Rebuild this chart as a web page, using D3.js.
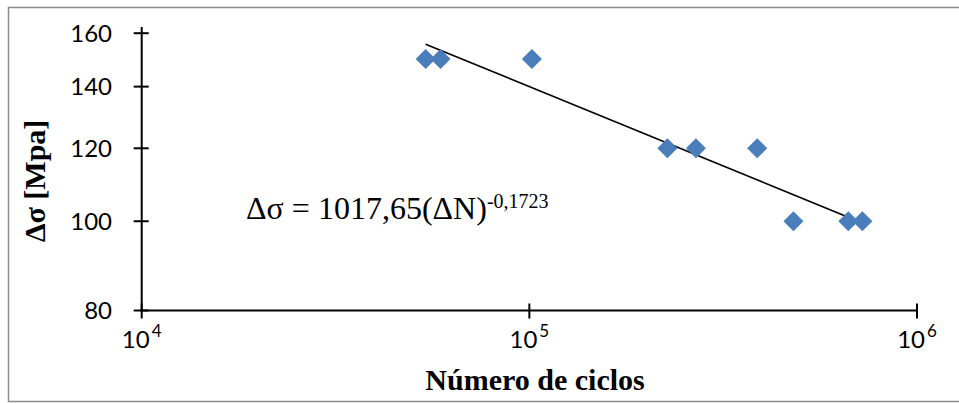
<!DOCTYPE html>
<html><head><meta charset="utf-8">
<script src="https://cdn.jsdelivr.net/npm/d3@7"></script>
<style>html,body{margin:0;padding:0;background:#fff;}svg{display:block;}</style>
</head><body>
<svg id="chart" width="959" height="403"></svg>
<script>
const cycles = [54000, 59000, 101500, 227000, 269000, 387000, 480000, 665000, 723000];
const stress = [150, 150, 150, 120, 120, 120, 100, 100, 100];
const yTicks = [80, 100, 120, 140, 160];
const xTicks = [1e4, 1e5, 1e6];
const xTickExp = ["4", "5", "6"];
const fitA = 1017.65, fitB = -0.1723;

const svg = d3.select("#chart");
const x = d3.scaleLog().domain([1e4, 1e6]).range([141.7, 917]);
const y = d3.scaleLog().domain([80, 162.5]).range([310.5, 27]);

// border (left, top, bottom)
svg.append("path").attr("d", "M960,7.5 H8.5 V401.5 H960")
  .attr("fill", "none").attr("stroke", "#8c8c8c").attr("stroke-width", 1.5);

const ax = svg.append("g").attr("stroke", "#000").attr("stroke-width", 2);
ax.append("line").attr("x1", x(1e4)).attr("x2", x(1e4)).attr("y1", y.range()[1]).attr("y2", y.range()[0]);
ax.append("line").attr("x1", x(1e4) - 1).attr("x2", x(1e6)).attr("y1", y(80)).attr("y2", y(80));
ax.selectAll(".yt").data(yTicks).enter().append("line")
  .attr("x1", x(1e4) - 8).attr("x2", x(1e4) + 7).attr("y1", d => y(d)).attr("y2", d => y(d));
ax.selectAll(".xt").data(xTicks).enter().append("line")
  .attr("x1", d => x(d)).attr("x2", d => x(d)).attr("y1", y(80) - 7).attr("y2", y(80) + 8);

const lblFont = "Lato, 'Open Sans', sans-serif";
svg.selectAll(".ylab").data(yTicks).enter().append("text")
  .attr("x", 112).attr("y", d => y(d)).attr("dy", "0.36em")
  .attr("text-anchor", "end").attr("font-family", lblFont).attr("font-size", 24)
  .attr("fill", "#000").text(d => d);

const xl = svg.selectAll(".xlab").data(xTicks).enter().append("text")
  .attr("x", d => x(d)).attr("y", 348)
  .attr("text-anchor", "middle").attr("font-family", lblFont).attr("font-size", 24).attr("fill", "#000");
xl.append("tspan").text("10");
xl.append("tspan").attr("dx", 2).attr("dy", -11).attr("font-size", 17).text((d, i) => xTickExp[i]);

// trendline
const nMin = d3.min(cycles), nMax = d3.max(cycles);
svg.append("line")
  .attr("x1", x(nMin)).attr("y1", y(fitA * Math.pow(nMin, fitB)))
  .attr("x2", x(nMax)).attr("y2", y(fitA * Math.pow(nMax, fitB)))
  .attr("stroke", "#000").attr("stroke-width", 1.6);

// points
const sym = d3.symbol().type(d3.symbolSquare).size(200);
svg.selectAll(".pt").data(cycles).enter().append("path")
  .attr("d", sym)
  .attr("transform", (d, i) => `translate(${x(d)},${y(stress[i])}) rotate(45)`)
  .attr("fill", "#4a7ebb");

// equation
const serif = "'Times New Roman', 'Liberation Serif', serif";
const eq = svg.append("text").attr("x", 246).attr("y", 219)
  .attr("font-family", serif).attr("font-size", 32).attr("fill", "#000");
eq.append("tspan").text("Δσ = 1017,65(ΔN)");
eq.append("tspan").attr("dy", -11).attr("font-size", 20).text("-0,1723");

// axis titles
svg.append("text").attr("transform", "translate(45,181) rotate(-90)")
  .attr("text-anchor", "middle").attr("font-family", serif).attr("font-weight", "bold")
  .attr("font-size", 30).attr("fill", "#000").text("Δσ [Mpa]");
svg.append("text").attr("x", 535).attr("y", 390)
  .attr("text-anchor", "middle").attr("font-family", serif).attr("font-weight", "bold")
  .attr("font-size", 30).attr("fill", "#000").text("Número de ciclos");
</script>
</body></html>
